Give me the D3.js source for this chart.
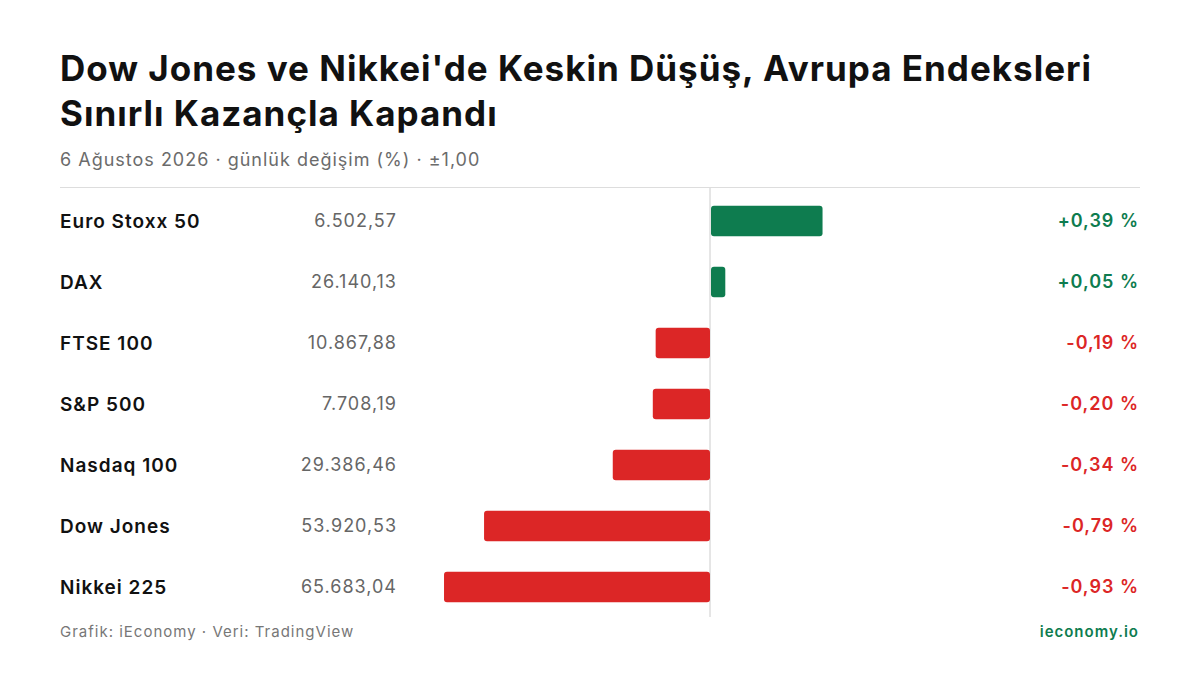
<!DOCTYPE html>
<html><head><meta charset="utf-8">
<script src="https://cdn.jsdelivr.net/npm/d3@7"></script>
<style>body{margin:0;background:#fff;font-family:Inter,"Noto Sans",sans-serif}text{letter-spacing:1px}</style>
</head><body>
<script>
const names = ["Euro Stoxx 50","DAX","FTSE 100","S&P 500","Nasdaq 100","Dow Jones","Nikkei 225"];
const levels = ["6.502,57","26.140,13","10.867,88","7.708,19","29.386,46","53.920,53","65.683,04"];
const changes = [0.39,0.05,-0.19,-0.20,-0.34,-0.79,-0.93];

const W = 1200, H = 675;
const green = "#0e7c4f", red = "#dc2626";
const svg = d3.select("body").append("svg").attr("width", W).attr("height", H);

svg.append("text").attr("x", 60).attr("y", 81).attr("font-size", 35).attr("font-weight", 700)
  .attr("letter-spacing", 1.25).attr("fill", "#111").text("Dow Jones ve Nikkei'de Keskin Düşüş, Avrupa Endeksleri");
svg.append("text").attr("x", 60).attr("y", 126).attr("font-size", 35).attr("font-weight", 700)
  .attr("letter-spacing", 1.25).attr("fill", "#111").text("Sınırlı Kazançla Kapandı");
svg.append("text").attr("x", 60).attr("y", 166).attr("font-size", 18).attr("fill", "#6b6b6b")
  .text("6 Ağustos 2026 · günlük değişim (%) · ±1,00");

svg.append("line").attr("x1", 60).attr("x2", 1140).attr("y1", 187.5).attr("y2", 187.5)
  .attr("stroke", "#ddd");

const x = d3.scaleLinear().domain([-1, 1]).range([424, 996]);
const y = d3.scaleBand().domain(names).range([190.5, 617.5]).paddingInner(0.5).paddingOuter(0.25);

svg.append("line").attr("x1", x(0)).attr("x2", x(0)).attr("y1", 188).attr("y2", 617)
  .attr("stroke", "#ccc");

const row = svg.selectAll("g.row").data(names).enter().append("g");
row.append("text").attr("x", 60).attr("y", d => y(d) + y.bandwidth() / 2).attr("dy", "0.35em")
  .attr("font-size", 19).attr("font-weight", 600).attr("fill", "#111").text(d => d);
row.append("text").attr("x", 397).attr("y", d => y(d) + y.bandwidth() / 2).attr("dy", "0.35em")
  .attr("text-anchor", "end").attr("font-size", 18).attr("fill", "#666").text((d, i) => levels[i]);
row.append("rect")
  .attr("x", (d, i) => Math.min(x(0), x(changes[i])) + (changes[i] > 0 ? 1 : 0))
  .attr("y", d => y(d))
  .attr("width", (d, i) => Math.abs(x(changes[i]) - x(0)))
  .attr("height", y.bandwidth()).attr("rx", 3)
  .attr("fill", (d, i) => changes[i] >= 0 ? green : red);
row.append("text").attr("x", 1139).attr("y", d => y(d) + y.bandwidth() / 2).attr("dy", "0.35em")
  .attr("text-anchor", "end").attr("font-size", 18).attr("font-weight", 600)
  .attr("fill", (d, i) => changes[i] >= 0 ? green : red)
  .text((d, i) => (changes[i] >= 0 ? "+" : "-") + Math.abs(changes[i]).toFixed(2).replace(".", ",") + " %");

svg.append("text").attr("x", 60).attr("y", 637).attr("font-size", 15).attr("fill", "#777")
  .text("Grafik: iEconomy · Veri: TradingView");
svg.append("text").attr("x", 1139).attr("y", 637).attr("text-anchor", "end").attr("font-size", 15)
  .attr("font-weight", 600).attr("fill", green).text("ieconomy.io");
</script>
</body></html>
